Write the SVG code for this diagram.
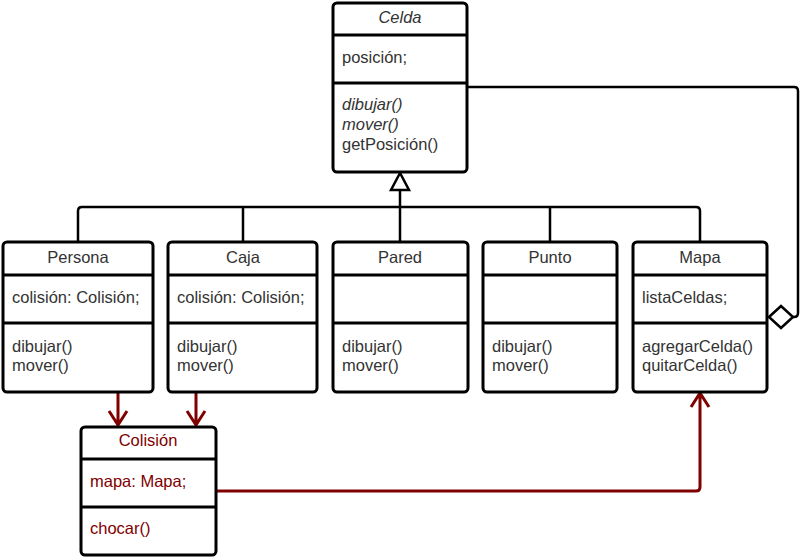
<svg xmlns="http://www.w3.org/2000/svg" width="800" height="557" viewBox="0 0 800 557">
<style>
.box{fill:#fff;stroke:#000;stroke-width:3}
.div{stroke:#000;stroke-width:3}
.t{font-family:"Liberation Sans",Arial,sans-serif;font-size:16.5px;fill:#333}
.h{text-anchor:middle}
.i{font-style:italic}
.r .div,.r .box{stroke:#000}
.r .t{fill:#800000}
.c{fill:none;stroke:#000;stroke-width:2.5}
.rc{fill:none;stroke:#800000;stroke-width:3}
</style>
<rect width="800" height="557" fill="#fff"/>
<g id="connectors">
<path class="c" d="M467,87 H794 Q798,87 798,91 V313 Q798,317 794,317 H793"/>
<polygon points="769,317 781,306 793,317 781,328" fill="#fff" stroke="#000" stroke-width="2.5"/>
<path class="c" d="M78,242 V211 Q78,207 82,207 H696 Q700,207 700,211 V242"/>
<path class="c" d="M243,242 V207 M550,242 V207 M400,242 V190"/>
<polygon points="400,173 391,190 409,190" fill="#fff" stroke="#000" stroke-width="2.5"/>
<path class="rc" d="M118,392 V424 M109,411 L118,425 L127,411"/>
<path class="rc" d="M196,392 V424 M187,411 L196,425 L205,411"/>
<path class="rc" d="M216,491 H696 Q700,491 700,487 V394 M691,407 L700,393 L709,407"/>
</g>
<g id="Celda">
<rect class="box" x="333" y="3" width="134" height="169" rx="4"/>
<line class="div" x1="333" y1="35" x2="467" y2="35"/>
<line class="div" x1="333" y1="83" x2="467" y2="83"/>
<text class="t h i" x="400" y="23">Celda</text>
<text class="t" x="342" y="63">posición;</text>
<text class="t i" x="342" y="110">dibujar()</text>
<text class="t i" x="342" y="130">mover()</text>
<text class="t" x="342" y="150">getPosición()</text>
</g>
<g id="Persona">
<rect class="box" x="3" y="242" width="150" height="150" rx="4"/>
<line class="div" x1="3" y1="275" x2="153" y2="275"/>
<line class="div" x1="3" y1="323" x2="153" y2="323"/>
<text class="t h" x="78" y="263">Persona</text>
<text class="t" x="12" y="303">colisión: Colisión;</text>
<text class="t" x="12" y="352">dibujar()</text>
<text class="t" x="12" y="371">mover()</text>
</g>
<g id="Caja">
<rect class="box" x="168" y="242" width="149" height="150" rx="4"/>
<line class="div" x1="168" y1="275" x2="317" y2="275"/>
<line class="div" x1="168" y1="323" x2="317" y2="323"/>
<text class="t h" x="243" y="263">Caja</text>
<text class="t" x="177" y="303">colisión: Colisión;</text>
<text class="t" x="177" y="352">dibujar()</text>
<text class="t" x="177" y="371">mover()</text>
</g>
<g id="Pared">
<rect class="box" x="333" y="242" width="135" height="150" rx="4"/>
<line class="div" x1="333" y1="275" x2="468" y2="275"/>
<line class="div" x1="333" y1="323" x2="468" y2="323"/>
<text class="t h" x="400" y="263">Pared</text>
<text class="t" x="342" y="352">dibujar()</text>
<text class="t" x="342" y="371">mover()</text>
</g>
<g id="Punto">
<rect class="box" x="483" y="242" width="134" height="150" rx="4"/>
<line class="div" x1="483" y1="275" x2="617" y2="275"/>
<line class="div" x1="483" y1="323" x2="617" y2="323"/>
<text class="t h" x="550" y="263">Punto</text>
<text class="t" x="492" y="352">dibujar()</text>
<text class="t" x="492" y="371">mover()</text>
</g>
<g id="Mapa">
<rect class="box" x="633" y="242" width="134" height="150" rx="4"/>
<line class="div" x1="633" y1="275" x2="767" y2="275"/>
<line class="div" x1="633" y1="323" x2="767" y2="323"/>
<text class="t h" x="700" y="263">Mapa</text>
<text class="t" x="642" y="303">listaCeldas;</text>
<text class="t" x="642" y="352">agregarCelda()</text>
<text class="t" x="642" y="371">quitarCelda()</text>
</g>
<g id="Colision" class="r">
<rect class="box" x="81" y="427" width="135" height="128" rx="4"/>
<line class="div" x1="81" y1="459" x2="216" y2="459"/>
<line class="div" x1="81" y1="507" x2="216" y2="507"/>
<text class="t h" x="148" y="446">Colisión</text>
<text class="t" x="90" y="487">mapa: Mapa;</text>
<text class="t" x="90" y="534">chocar()</text>
</g>
</svg>
